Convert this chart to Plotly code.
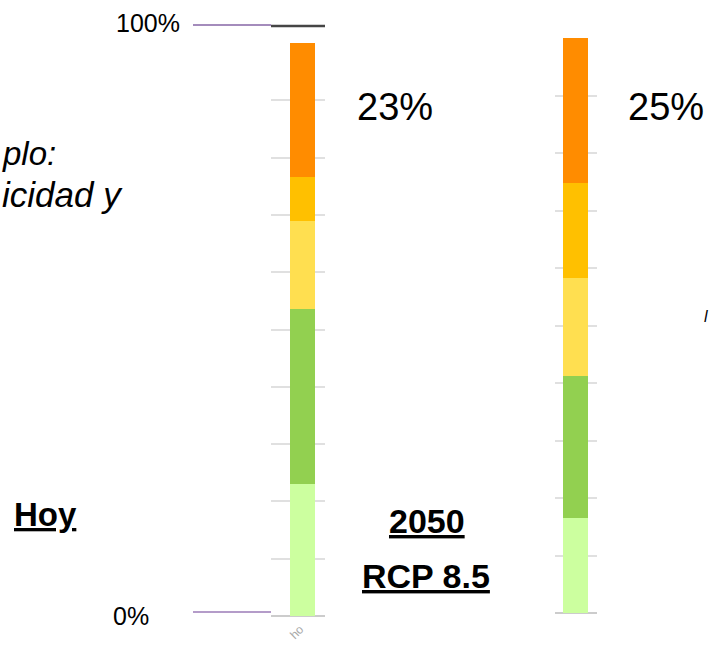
import plotly.graph_objects as go

W, H = 709, 646

# ---- data ----
levels = ["Muy bajo", "Bajo", "Medio", "Alto", "Muy alto"]
level_colors = ["#CCFF9F", "#92D050", "#FFDF50", "#FFC000", "#FF8C00"]
cat_hoy = ["Hoy"]
cat_2050 = ["2050 RCP 8.5"]
hoy_values = [23.0, 30.5, 15.4, 7.7, 23.4]
rcp_values = [16.5, 24.7, 17.0, 16.5, 25.3]
y_tick_labels = ["0%", "100%"]
top_share_hoy = "23%"
top_share_2050 = "25%"
axis_label_fragment = "ho"
side_text_1 = "plo:"
side_text_2 = "icidad y"


def px(x):
    return x / W


def py(y):
    return 1 - y / H


fig = go.Figure()
for name, col, vh, vr in zip(levels, level_colors, hoy_values, rcp_values):
    fig.add_trace(go.Bar(x=cat_hoy, y=[vh], name=name, marker=dict(color=col, line=dict(width=0)),
                         width=0.463, xaxis="x", yaxis="y", showlegend=False, hoverinfo="name+y"))
    fig.add_trace(go.Bar(x=cat_2050, y=[vr], name=name, marker=dict(color=col, line=dict(width=0)),
                         width=0.595, xaxis="x2", yaxis="y2", showlegend=False, hoverinfo="name+y"))

grid = dict(range=[0, 100], dtick=10, showgrid=True, gridcolor="#E0E0E0", gridwidth=1.6,
            showticklabels=False, zeroline=True, zerolinecolor="#CCCCCC", zerolinewidth=1.6,
            showline=False, ticks="", fixedrange=True)
xbase = dict(showticklabels=False, showgrid=False, zeroline=False, showline=False, ticks="",
             fixedrange=True, type="category")

fig.update_layout(
    width=W, height=H, autosize=False,
    margin=dict(l=0, r=0, t=0, b=0),
    paper_bgcolor="white", plot_bgcolor="white",
    barmode="stack", bargap=0,
    font=dict(family="Liberation Sans, Arial, sans-serif", color="black"),
    xaxis=dict(xbase, domain=[px(271), px(325)], range=[-0.583, 0.417]),
    xaxis2=dict(xbase, domain=[px(555), px(597)], range=[-0.488, 0.512], anchor="y2"),
    yaxis=dict(grid, domain=[py(616), py(43)], anchor="x"),
    yaxis2=dict(grid, domain=[py(613), py(38)], anchor="x2"),
)

shapes = [
    # slide pointer lines at 100% and 0%
    dict(type="line", xref="paper", yref="paper", x0=px(193), x1=px(271), y0=py(25), y1=py(25),
         line=dict(color="#4B1A7A", width=1.2)),
    dict(type="line", xref="paper", yref="paper", x0=px(193), x1=px(271), y0=py(612), y1=py(612),
         line=dict(color="#6A3A94", width=1.2)),
    # dark rule on top of the first chart
    dict(type="line", xref="paper", yref="paper", x0=px(271), x1=px(325), y0=py(26), y1=py(26),
         line=dict(color="#454545", width=2.5)),
]
fig.update_layout(shapes=shapes)

ann = []
ann.append(dict(text=y_tick_labels[1], x=px(182), y=py(23), xanchor="right", yanchor="middle",
                font=dict(size=25)))
ann.append(dict(text=y_tick_labels[0], x=px(151), y=py(616), xanchor="right", yanchor="middle",
                font=dict(size=25)))
ann.append(dict(text=top_share_hoy, x=px(355), y=py(107), xanchor="left", yanchor="middle",
                font=dict(size=38)))
ann.append(dict(text=top_share_2050, x=px(626), y=py(107), xanchor="left", yanchor="middle",
                font=dict(size=38)))
ann.append(dict(text="<b><u>Hoy</u></b>", x=px(12), y=py(514), xanchor="left", yanchor="middle",
                font=dict(size=33)))
ann.append(dict(text="<b><u>2050</u></b>", x=px(427), y=py(521), xanchor="center", yanchor="middle",
                font=dict(size=34)))
ann.append(dict(text="<b><u>RCP 8.5</u></b>", x=px(426), y=py(576), xanchor="center", yanchor="middle",
                font=dict(size=34)))
ann.append(dict(text="<i>" + side_text_1 + "</i>", x=px(0), y=py(154), xanchor="left", yanchor="middle",
                font=dict(size=33)))
ann.append(dict(text="<i>" + side_text_2 + "</i>", x=px(0), y=py(194), xanchor="left", yanchor="middle",
                font=dict(size=35)))
ann.append(dict(text="<i>l</i>", x=px(702), y=py(316), xanchor="left", yanchor="middle",
                font=dict(size=16)))
ann.append(dict(text=axis_label_fragment, x=px(297), y=py(632), xanchor="center", yanchor="middle",
                textangle=-45, font=dict(size=12, color="#A8A8A8")))
for a in ann:
    a.update(xref="paper", yref="paper", showarrow=False)
fig.update_layout(annotations=ann)

fig.write_html("out.html", config={"displayModeBar": False},
               post_script="document.body.style.margin='0';document.body.style.overflow='hidden';")
